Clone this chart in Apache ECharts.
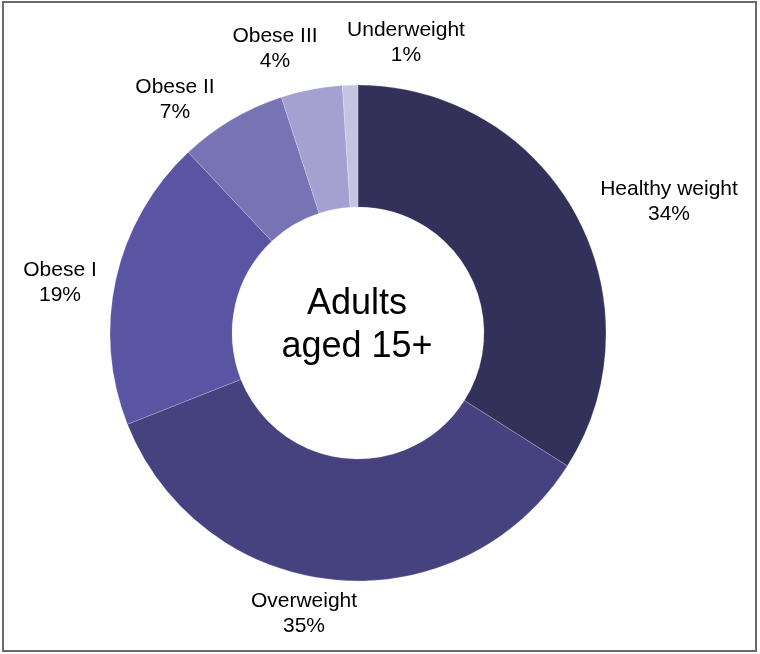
<!DOCTYPE html>
<html>
<head>
<meta charset="utf-8">
<title>Adults aged 15+ weight categories</title>
<script src="https://cdn.jsdelivr.net/npm/echarts@6/dist/echarts.min.js"></script>
<style>
  html, body { margin: 0; padding: 0; background: #fff; }
  #chart { width: 760px; height: 654px; }
</style>
</head>
<body>
<div id="chart"></div>
<script>
// 数据
const categories = ['Healthy weight', 'Overweight', 'Obese I', 'Obese II', 'Obese III', 'Underweight'];
const shares = [34, 35, 19, 7, 4, 1];
const colors = ['#333059', '#46427f', '#5a55a3', '#7873b5', '#a4a1d1', '#c6c4e4'];

// 标签中心位置 (像素)
const labelCenters = [
    [669, 202],
    [304, 614],
    [60, 283],
    [175, 100],
    [275, 49],
    [406, 43]
];

const chart = echarts.init(document.getElementById('chart'));

const option = {
    animation: false,
    backgroundColor: '#ffffff',
    graphic: [
        {
            type: 'rect',
            shape: { x: 3, y: 2, width: 753, height: 649 },
            style: { fill: 'none', stroke: '#6b6b6b', lineWidth: 2 },
            z: 10
        },
        {
            type: 'text',
            x: 357,
            y: 326,
            style: {
                text: 'Adults\naged 15+',
                align: 'center',
                verticalAlign: 'middle',
                font: '36px "Liberation Sans", Arial, sans-serif',
                lineHeight: 43,
                fill: '#000'
            }
        }
    ],
    series: [{
        type: 'pie',
        center: [358, 333],
        radius: [126, 248],
        startAngle: 90,
        clockwise: true,
        avoidLabelOverlap: false,
        itemStyle: { borderColor: 'rgba(255,255,255,0.4)', borderWidth: 0.5 },
        label: {
            show: true,
            position: 'outside',
            formatter: p => p.name + '\n' + p.value + '%',
            fontFamily: '"Liberation Sans", Arial, sans-serif',
            fontSize: 21,
            lineHeight: 25,
            color: '#000',
            align: 'center'
        },
        labelLine: { show: false },
        labelLayout: params => {
            const c = labelCenters[params.dataIndex];
            return {
                x: c[0],
                y: c[1],
                align: 'center',
                verticalAlign: 'middle'
            };
        },
        emphasis: { disabled: true },
        data: categories.map((name, i) => ({
            name: name,
            value: shares[i],
            itemStyle: { color: colors[i] }
        }))
    }]
};

chart.setOption(option);
</script>
</body>
</html>
